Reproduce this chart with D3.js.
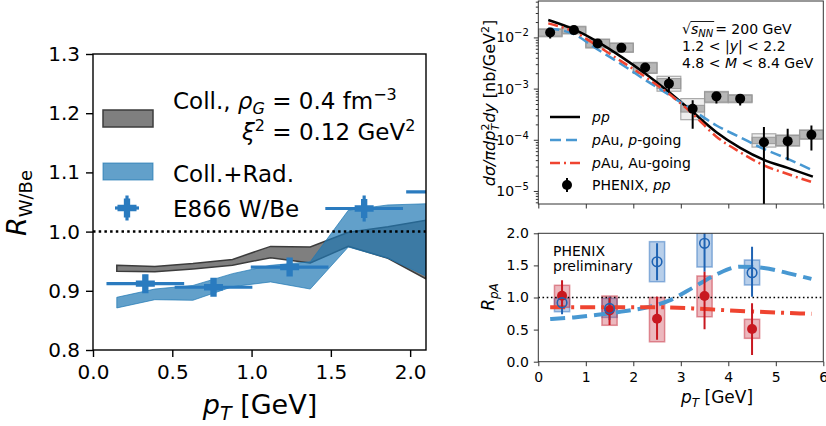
<!DOCTYPE html>
<html><head><meta charset="utf-8">
<script src="https://cdn.jsdelivr.net/npm/d3@7"></script>
<style>body{margin:0;background:#fff}svg{display:block}text{font-family:"DejaVu Sans",sans-serif}</style>
</head><body><svg id="c" width="826" height="426"></svg>
<script>
// ---------------- DATA ----------------
// Left panel: R_W/Be vs pT
const bandX   = [0.15, 0.39, 0.63, 0.88, 1.12, 1.37, 1.61, 1.86, 2.10];
const collLo  = [0.933, 0.932, 0.937, 0.943, 0.956, 0.947, 0.975, 0.955, 0.920];
const collHi  = [0.943, 0.941, 0.946, 0.953, 0.975, 0.974, 0.999, 1.008, 1.019];
const radLo   = [0.871, 0.885, 0.884, 0.907, 0.915, 0.903, 0.974, 0.955, 0.925];
const radHi   = [0.889, 0.903, 0.909, 0.929, 0.943, 0.949, 1.036, 1.045, 1.047];
const e866X    = [0.33, 0.76, 1.24, 1.71, 2.22];
const e866Y    = [0.912, 0.906, 0.940, 1.039, 1.067];
const e866XErr = [0.245, 0.245, 0.245, 0.245, 0.245];
const e866YErr = [0.015, 0.014, 0.015, 0.022, 0.020];
const leftXTicks = [0.0, 0.5, 1.0, 1.5, 2.0];
const leftYTicks = [0.8, 0.9, 1.0, 1.1, 1.2, 1.3];

// Upper right: cross section
const ppX      = [0.25, 0.75, 1.25, 1.75, 2.25, 2.75, 3.25, 3.75, 4.25, 4.75, 5.25, 5.75];
const ppY      = [0.0125, 0.0139, 0.00763, 0.00625, 0.00258, 0.00125, 0.000405, 0.000706, 0.000637, 0.0000897, 0.0000940, 0.000125];
const ppErrLo  = [0.0095, 0.0127, 0.0068, 0.0057, 0.00211, 0.0009, 0.000164, 0.00051, 0.00047, 0.000001, 0.00004, 0.000062];
const ppErrHi  = [0.0150, 0.0152, 0.0085, 0.0069, 0.00309, 0.00169, 0.00059, 0.00086, 0.00076, 0.000177, 0.000164, 0.00019];
const ppSysLo  = [0.0106, 0.0120, 0.0064, 0.00523, 0.00202, 0.00100, 0.000348, 0.000546, 0.000546, 0.000084, 0.000077, 0.000105];
const ppSysHi  = [0.01436, 0.0161, 0.0091, 0.00763, 0.00318, 0.00157, 0.000471, 0.000857, 0.000740, 0.000112, 0.000121, 0.000152];
const ppSys2Lo = [0.0103, 0.0117, 0.0062, 0.0051, 0.00198, 0.00089, 0.000247, 0.00053, 0.00053, 0.000072, 0.000075, 0.000102];
const ppSys2Hi = [0.0147, 0.0165, 0.0093, 0.0078, 0.00325, 0.00174, 0.000637, 0.00088, 0.00076, 0.000131, 0.000124, 0.000156];
const curveX       = [0.21, 0.75, 1.25, 1.75, 2.25, 2.75, 3.25, 3.75, 4.25, 4.75, 5.25, 5.78];
const ppCurve      = [0.0219, 0.01435, 0.0082, 0.00417, 0.00197, 0.000857, 0.000348, 0.000141, 0.0000697, 0.0000406, 0.0000282, 0.0000190];
const pGoingCurve  = [0.0150, 0.0116, 0.0058, 0.0030, 0.00148, 0.00076, 0.00038, 0.00019, 0.000112, 0.0000661, 0.0000424, 0.0000251];
const auGoingCurve = [0.0188, 0.0129, 0.0068, 0.0034, 0.0017, 0.00079, 0.00032, 0.000115, 0.0000571, 0.0000316, 0.0000214, 0.0000147];
const urYTicks = [1e-5, 1e-4, 1e-3, 1e-2];

// Lower right: R_pA
const rpaX      = [0.5, 1.5, 2.5, 3.5, 4.5];
const pY        = [0.919, 0.83, 1.557, 1.844, 1.386];
const pErrLo    = [0.74, 0.65, 1.27, 1.40, 1.01];
const pErrHi    = [1.09, 1.01, 1.844, 2.30, 1.79];
const pSysLo    = [0.779, 0.69, 1.246, 1.475, 1.195];
const pSysHi    = [0.987, 0.987, 1.87, 2.10, 1.584];
const auY       = [1.028, 0.80, 0.67, 1.023, 0.509];
const auErrLo   = [0.83, 0.57, 0.34, 0.505, 0.104];
const auErrHi   = [1.27, 1.0, 1.01, 1.40, 0.91];
const auSysLo   = [0.847, 0.567, 0.31, 0.70, 0.364];
const auSysHi   = [1.19, 1.023, 1.0, 1.335, 0.66];
const rpaCurveX = [0.25, 0.75, 1.25, 1.75, 2.25, 2.75, 3.25, 3.75, 4.25, 4.75, 5.25, 5.75];
const rpaPGoing = [0.665, 0.69, 0.73, 0.78, 0.84, 0.95, 1.15, 1.36, 1.48, 1.46, 1.38, 1.29];
const rpaAuGoing= [0.85, 0.85, 0.85, 0.85, 0.85, 0.845, 0.83, 0.81, 0.79, 0.775, 0.76, 0.745];
const lrXTicks = [0, 1, 2, 3, 4, 5, 6];
const lrYTicks = [0.0, 0.5, 1.0, 1.5, 2.0];

// ---------------- HELPERS ----------------
const svg = d3.select('#c');
const defs = svg.append('defs');
function clip(id, x0, y0, x1, y1) {
  defs.append('clipPath').attr('id', id).append('rect')
    .attr('x', x0).attr('y', y0).attr('width', x1 - x0).attr('height', y1 - y0);
  return 'url(#' + id + ')';
}
function mtext(g, x, y, parts, o = {}) {
  const t = g.append('text').attr('x', x).attr('y', y)
    .attr('font-size', o.size || 14).attr('fill', o.fill || '#000')
    .attr('text-anchor', o.anchor || 'start');
  if (o.transform) t.attr('transform', o.transform);
  let cur = 0;
  parts.forEach(p => {
    const s = t.append('tspan').text(p.t);
    if (p.i) s.attr('font-style', 'italic');
    if (p.size) s.attr('font-size', p.size);
    const off = p.off || 0;
    if (off !== cur) { s.attr('dy', off - cur); cur = off; }
    if (p.dx) s.attr('dx', p.dx);
  });
  return t;
}
function styleAxis(g, size, color) {
  g.select('.domain').remove();
  g.selectAll('.tick line').attr('stroke', color);
  g.selectAll('.tick text').attr('font-size', size).attr('fill', '#000')
    .attr('font-family', '"DejaVu Sans", sans-serif');
}
const plusPath = s => {
  const a = s / 6, b = s / 2;
  return `M${-a},${-b}H${a}V${-a}H${b}V${a}H${a}V${b}H${-a}V${a}H${-b}V${-a}H${-a}Z`;
};

// ---------------- LEFT PANEL ----------------
const L = {x0: 93, x1: 426, y0: 54, y1: 350};
const xL = d3.scaleLinear().domain([0, 2.1]).range([L.x0, L.x1]);
const yL = d3.scaleLinear().domain([0.8, 1.3]).range([L.y1, L.y0]);
const gL = svg.append('g');
const cL = clip('clipL', L.x0, L.y0, L.x1, L.y1);
const plotL = gL.append('g').attr('clip-path', cL);

const collData = bandX.map((x, i) => ({x, lo: collLo[i], hi: collHi[i]}));
const radData = bandX.map((x, i) => ({x, lo: radLo[i], hi: radHi[i]}));
const areaL = d3.area().x(d => xL(d.x)).y0(d => yL(d.lo)).y1(d => yL(d.hi));
plotL.append('path').datum(collData).attr('d', areaL)
  .attr('fill', '#7f7f7f').attr('stroke', '#3c3c3c').attr('stroke-width', 1.5);
plotL.append('path').datum(radData).attr('d', areaL)
  .attr('fill', '#1f77b4').attr('fill-opacity', 0.7)
  .attr('stroke', '#1f77b4').attr('stroke-opacity', 0.7).attr('stroke-width', 1);
plotL.append('line').attr('x1', L.x0).attr('x2', L.x1).attr('y1', yL(1)).attr('y2', yL(1))
  .attr('stroke', '#000').attr('stroke-width', 2.5).attr('stroke-dasharray', '2.5,3.2');

const E866C = '#2a7bbf';
const eData = e866X.map((x, i) => ({x, y: e866Y[i], xe: e866XErr[i], ye: e866YErr[i]}));
const eg = plotL.append('g');
eg.selectAll('.xe').data(eData).enter().append('line')
  .attr('x1', d => xL(d.x - d.xe)).attr('x2', d => xL(d.x + d.xe))
  .attr('y1', d => yL(d.y)).attr('y2', d => yL(d.y))
  .attr('stroke', E866C).attr('stroke-width', 3.2);
eg.selectAll('.ye').data(eData).enter().append('line')
  .attr('x1', d => xL(d.x)).attr('x2', d => xL(d.x))
  .attr('y1', d => yL(d.y - d.ye)).attr('y2', d => yL(d.y + d.ye))
  .attr('stroke', E866C).attr('stroke-width', 3.2);
eg.selectAll('.mk').data(eData).enter().append('path')
  .attr('d', plusPath(19)).attr('transform', d => `translate(${xL(d.x)},${yL(d.y)})`)
  .attr('fill', E866C);

gL.append('rect').attr('x', L.x0).attr('y', L.y0).attr('width', L.x1 - L.x0).attr('height', L.y1 - L.y0)
  .attr('fill', 'none').attr('stroke', '#000').attr('stroke-width', 1.4);
const axLx = gL.append('g').attr('transform', `translate(0,${L.y1})`)
  .call(d3.axisBottom(xL).tickValues(leftXTicks).tickFormat(d3.format('.1f')).tickSize(7).tickPadding(8));
styleAxis(axLx, 20, '#000');
axLx.selectAll('.tick line').attr('stroke-width', 1.4);
const axLy = gL.append('g').attr('transform', `translate(${L.x0},0)`)
  .call(d3.axisLeft(yL).tickValues(leftYTicks).tickFormat(d3.format('.1f')).tickSize(7).tickPadding(6));
styleAxis(axLy, 20, '#000');
axLy.selectAll('.tick line').attr('stroke-width', 1.4);

// axis labels
mtext(gL, 260, 414, [{t: 'p', i: 1}, {t: 'T', i: 1, size: 19, off: 6}, {t: ' [GeV]', off: 0}], {size: 27, anchor: 'middle'});
mtext(gL, 0, 0, [{t: 'R', i: 1}, {t: 'W/Be', size: 18, off: 6}], {size: 27, anchor: 'middle', transform: 'translate(26,203) rotate(-90)'});

// legend
gL.append('rect').attr('x', 103).attr('y', 110).attr('width', 50).attr('height', 17)
  .attr('fill', '#7f7f7f').attr('stroke', '#3c3c3c').attr('stroke-width', 1.5);
mtext(gL, 173, 109, [{t: 'Coll., '}, {t: 'ρ', i: 1}, {t: 'G', i: 1, size: 16, off: 5}, {t: ' = 0.4 fm', off: 0}, {t: '−3', size: 16, off: -9}], {size: 23});
mtext(gL, 242, 140, [{t: 'ξ', i: 1}, {t: '2', size: 16, off: -9}, {t: ' = 0.12 GeV', off: 0}, {t: '2', size: 16, off: -9}], {size: 23});
gL.append('rect').attr('x', 103).attr('y', 163).attr('width', 50).attr('height', 17)
  .attr('fill', '#1f77b4').attr('fill-opacity', 0.7).attr('stroke', '#1f77b4').attr('stroke-opacity', 0.7);
mtext(gL, 173, 182, [{t: 'Coll.+Rad.'}], {size: 23});
const lgE = gL.append('g').attr('transform', 'translate(127,208)');
lgE.append('line').attr('x1', -12).attr('x2', 12).attr('stroke', E866C).attr('stroke-width', 3.2);
lgE.append('line').attr('y1', -12.5).attr('y2', 12.5).attr('stroke', E866C).attr('stroke-width', 3.2);
lgE.append('path').attr('d', plusPath(19)).attr('fill', E866C);
mtext(gL, 173, 217, [{t: 'E866 W/Be'}], {size: 23});

// ---------------- UPPER RIGHT PANEL ----------------
const U = {x0: 538.3, x1: 823.3, y0: 1, y1: 204};
const xU = d3.scaleLinear().domain([0, 6]).range([U.x0, U.x1]);
const yU = d3.scaleLog().domain([5.56e-6, 0.0515]).range([U.y1, U.y0]);
const gU = svg.append('g');
const plotU = gU.append('g').attr('clip-path', clip('clipU', U.x0, U.y0, U.x1, U.y1));
const ppData = ppX.map((x, i) => ({x, y: ppY[i], lo: ppErrLo[i], hi: ppErrHi[i], sl: ppSysLo[i], sh: ppSysHi[i], s2l: ppSys2Lo[i], s2h: ppSys2Hi[i]}));
plotU.selectAll('.b2').data(ppData).enter().append('rect')
  .attr('x', d => xU(d.x - 0.25)).attr('width', d => xU(d.x + 0.25) - xU(d.x - 0.25))
  .attr('y', d => yU(d.s2h)).attr('height', d => yU(d.s2l) - yU(d.s2h))
  .attr('fill', '#bbbbbb').attr('fill-opacity', 0.25).attr('stroke', '#aaaaaa').attr('stroke-width', 1.2);
plotU.selectAll('.b1').data(ppData).enter().append('rect')
  .attr('x', d => xU(d.x - 0.25)).attr('width', d => xU(d.x + 0.25) - xU(d.x - 0.25))
  .attr('y', d => yU(d.sh)).attr('height', d => yU(d.sl) - yU(d.sh))
  .attr('fill', '#808080').attr('fill-opacity', 0.5).attr('stroke', '#999').attr('stroke-width', 1);
const cData = (arr) => curveX.map((x, i) => ({x, y: arr[i]}));
const lineU = d3.line().x(d => xU(d.x)).y(d => yU(d.y)).curve(d3.curveMonotoneX);
const BLUE_C = '#4898d2', RED_C = '#ef4430';
plotU.append('path').datum(cData(ppCurve)).attr('d', lineU).attr('fill', 'none').attr('stroke', '#000').attr('stroke-width', 2.5);
plotU.append('path').datum(cData(pGoingCurve)).attr('d', lineU).attr('fill', 'none').attr('stroke', BLUE_C).attr('stroke-width', 2.5).attr('stroke-dasharray', '11,5');
plotU.append('path').datum(cData(auGoingCurve)).attr('d', lineU).attr('fill', 'none').attr('stroke', RED_C).attr('stroke-width', 2.5).attr('stroke-dasharray', '10,4,2,4');
plotU.selectAll('.er').data(ppData).enter().append('line')
  .attr('x1', d => xU(d.x)).attr('x2', d => xU(d.x))
  .attr('y1', d => yU(d.lo)).attr('y2', d => yU(d.hi))
  .attr('stroke', '#000').attr('stroke-width', 2);
plotU.selectAll('.pt').data(ppData).enter().append('circle')
  .attr('cx', d => xU(d.x)).attr('cy', d => yU(d.y)).attr('r', 5).attr('fill', '#000');
gU.append('rect').attr('x', U.x0).attr('y', U.y0).attr('width', U.x1 - U.x0).attr('height', U.y1 - U.y0)
  .attr('fill', 'none').attr('stroke', '#333').attr('stroke-width', 1);
const axUy = gU.append('g').attr('transform', `translate(${U.x0},0)`)
  .call(d3.axisLeft(yU).tickValues(urYTicks).tickFormat(() => '').tickSize(4.5).tickPadding(5));
styleAxis(axUy, 14, '#333');
axUy.selectAll('.tick text').each(function (d) {
  const e = Math.round(Math.log10(d));
  const t = d3.select(this);
  t.append('tspan').text('10');
  t.append('tspan').text('−' + Math.abs(e)).attr('font-size', 10).attr('dy', -6);
});
const minorU = [];
for (let e = -6; e <= -2; e++) for (let m = 2; m <= 9; m++) { const v = m * Math.pow(10, e); if (v > 5.56e-6 && v < 0.0515) minorU.push(v); }
const axUm = gU.append('g').attr('transform', `translate(${U.x0},0)`)
  .call(d3.axisLeft(yU).tickValues(minorU).tickFormat(() => '').tickSize(2.5));
styleAxis(axUm, 10, '#333');
const axUx = gU.append('g').attr('transform', `translate(0,${U.y1})`)
  .call(d3.axisBottom(xU).tickValues(lrXTicks).tickFormat(() => '').tickSize(4.5));
styleAxis(axUx, 10, '#333');
// y label
mtext(gU, 0, 0, [
  {t: 'dσ/πdp', i: 1},
  {t: '2', size: 11, off: -6}, {t: 'T', i: 1, size: 11, off: 4, dx: -7},
  {t: 'dy', i: 1, off: 0, dx: 1}, {t: ' [nb/GeV'}, {t: '2', size: 11, off: -6}, {t: ']', off: 0}
], {size: 16, anchor: 'middle', transform: 'translate(495,103) rotate(-90)'});
// annotation text
(function () {
  const x0 = 682;
  const sq = gU.append('text').attr('x', x0).attr('y', 34).attr('font-size', 14).text('√');
  const w0 = sq.node().getComputedTextLength();
  const sn = mtext(gU, x0 + w0, 34, [{t: 's', i: 1}, {t: 'NN', i: 1, size: 10, off: 3}], {size: 14});
  const w1 = sn.node().getComputedTextLength();
  gU.append('line').attr('x1', x0 + w0 - 0.5).attr('x2', x0 + w0 + w1 + 1).attr('y1', 21.5).attr('y2', 21.5).attr('stroke', '#000').attr('stroke-width', 0.9);
  mtext(gU, x0 + w0 + w1 + 2, 34, [{t: ' = 200 GeV'}], {size: 14});
})();
mtext(gU, 682, 51, [{t: '1.2 < |'}, {t: 'y', i: 1}, {t: '| < 2.2'}], {size: 14});
mtext(gU, 682, 67.5, [{t: '4.8 < '}, {t: 'M', i: 1}, {t: ' < 8.4 GeV'}], {size: 14});
// legend
const lgU = gU.append('g');
lgU.append('line').attr('x1', 550).attr('x2', 580).attr('y1', 117).attr('y2', 117).attr('stroke', '#000').attr('stroke-width', 2.5);
mtext(lgU, 592, 122, [{t: 'pp', i: 1}], {size: 14});
lgU.append('line').attr('x1', 550).attr('x2', 580).attr('y1', 140).attr('y2', 140).attr('stroke', BLUE_C).attr('stroke-width', 2.5).attr('stroke-dasharray', '11,5');
mtext(lgU, 592, 145, [{t: 'p', i: 1}, {t: 'Au, '}, {t: 'p', i: 1}, {t: '-going'}], {size: 14});
lgU.append('line').attr('x1', 550).attr('x2', 580).attr('y1', 163).attr('y2', 163).attr('stroke', RED_C).attr('stroke-width', 2.5).attr('stroke-dasharray', '10,4,2,4');
mtext(lgU, 592, 168, [{t: 'p', i: 1}, {t: 'Au, Au-going'}], {size: 14});
lgU.append('line').attr('x1', 567).attr('x2', 567).attr('y1', 178).attr('y2', 192).attr('stroke', '#000').attr('stroke-width', 2);
lgU.append('circle').attr('cx', 567).attr('cy', 185).attr('r', 5).attr('fill', '#000');
mtext(lgU, 592, 190, [{t: 'PHENIX, '}, {t: 'pp', i: 1}], {size: 14});

// ---------------- LOWER RIGHT PANEL ----------------
const D = {x0: 538.3, x1: 823.3, y0: 233.3, y1: 361.7};
const xD = d3.scaleLinear().domain([0, 6]).range([D.x0, D.x1]);
const yD = d3.scaleLinear().domain([0, 2]).range([D.y1, D.y0]);
const gD = svg.append('g');
const plotD = gD.append('g').attr('clip-path', clip('clipD', D.x0, D.y0, D.x1, D.y1));
const pData = rpaX.map((x, i) => ({x, y: pY[i], lo: pErrLo[i], hi: pErrHi[i], sl: pSysLo[i], sh: pSysHi[i]}));
const aData = rpaX.map((x, i) => ({x, y: auY[i], lo: auErrLo[i], hi: auErrHi[i], sl: auSysLo[i], sh: auSysHi[i]}));
const PC = '#1f63b3', AC = '#c81820';
function boxes(data, fill, stroke) {
  plotD.append('g').selectAll('rect').data(data).enter().append('rect')
    .attr('x', d => xD(d.x - 0.16)).attr('width', d => xD(d.x + 0.16) - xD(d.x - 0.16))
    .attr('y', d => yD(d.sh)).attr('height', d => yD(d.sl) - yD(d.sh))
    .attr('fill', fill).attr('fill-opacity', 0.34).attr('stroke', stroke).attr('stroke-opacity', 0.5).attr('stroke-width', 1.5);
}
boxes(pData, '#2f72c0', '#2f72c0');
boxes(aData, '#c83040', '#c83040');
plotD.append('line').attr('x1', D.x0).attr('x2', D.x1).attr('y1', yD(1)).attr('y2', yD(1))
  .attr('stroke', '#000').attr('stroke-width', 1.6).attr('stroke-dasharray', '1.6,2.6');
const lineD = d3.line().x(d => xD(d.x)).y(d => yD(d.y)).curve(d3.curveMonotoneX);
plotD.append('path').datum(rpaCurveX.map((x, i) => ({x, y: rpaPGoing[i]}))).attr('d', lineD)
  .attr('fill', 'none').attr('stroke', BLUE_C).attr('stroke-width', 4).attr('stroke-dasharray', '15,7');
plotD.append('path').datum(rpaCurveX.map((x, i) => ({x, y: rpaAuGoing[i]}))).attr('d', lineD)
  .attr('fill', 'none').attr('stroke', RED_C).attr('stroke-width', 4).attr('stroke-dasharray', '15,6,3,6');
function errs(data, color) {
  plotD.append('g').selectAll('line').data(data).enter().append('line')
    .attr('x1', d => xD(d.x)).attr('x2', d => xD(d.x))
    .attr('y1', d => yD(d.lo)).attr('y2', d => yD(d.hi))
    .attr('stroke', color).attr('stroke-width', 2);
}
errs(pData, PC);
errs(aData, AC);
plotD.append('g').selectAll('circle').data(aData).enter().append('circle')
  .attr('cx', d => xD(d.x)).attr('cy', d => yD(d.y)).attr('r', 5).attr('fill', AC);
plotD.append('g').selectAll('circle').data(pData).enter().append('circle')
  .attr('cx', d => xD(d.x)).attr('cy', d => yD(d.y)).attr('r', 4.8).attr('fill', 'none').attr('stroke', PC).attr('stroke-width', 1.6);
gD.append('rect').attr('x', D.x0).attr('y', D.y0).attr('width', D.x1 - D.x0).attr('height', D.y1 - D.y0)
  .attr('fill', 'none').attr('stroke', '#333').attr('stroke-width', 1);
const axDx = gD.append('g').attr('transform', `translate(0,${D.y1})`)
  .call(d3.axisBottom(xD).tickValues(lrXTicks).tickFormat(d3.format('d')).tickSize(4.5).tickPadding(6));
styleAxis(axDx, 14, '#333');
const axDy = gD.append('g').attr('transform', `translate(${D.x0},0)`)
  .call(d3.axisLeft(yD).tickValues(lrYTicks).tickFormat(d3.format('.1f')).tickSize(4.5).tickPadding(5));
styleAxis(axDy, 14, '#333');
mtext(gD, 681, 403, [{t: 'p', i: 1}, {t: 'T', i: 1, size: 12, off: 4}, {t: ' [GeV]', off: 0}], {size: 17});
mtext(gD, 0, 0, [{t: 'R', i: 1}, {t: 'pA', i: 1, size: 12, off: 4}], {size: 17, anchor: 'middle', transform: 'translate(494,297) rotate(-90)'});
mtext(gD, 553, 256, [{t: 'PHENIX'}], {size: 14});
mtext(gD, 553, 271, [{t: 'preliminary'}], {size: 14});
</script></body></html>
